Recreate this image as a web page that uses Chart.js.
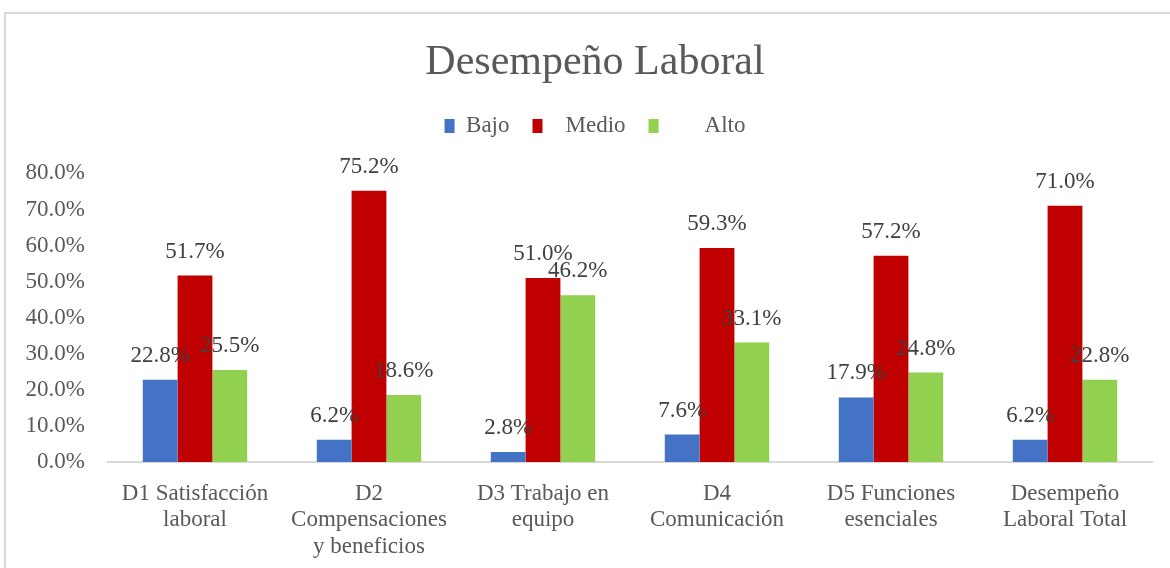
<!DOCTYPE html>
<html>
<head>
<meta charset="utf-8">
<script src="https://cdn.jsdelivr.net/npm/chart.js@4"></script>
<style>
  body { margin: 0; background: #fff; }
  #wrap { position: relative; width: 1170px; height: 568px; overflow: hidden; }
  #frame { position: absolute; left: 4px; top: 12px; width: 1200px; height: 600px;
           border-left: 2px solid #d9d9d9; border-top: 2px solid #d9d9d9; }
  #bpChart { position: absolute; left: 0; top: 0; }
</style>
</head>
<body>
<div id="wrap">
  <div id="frame"></div>
  <canvas id="bpChart" width="1170" height="568"></canvas>
</div>
<script>
function getElement(id) {
  return document.getElementById(id);
}

// Data

const categories = [
  ["D1 Satisfacción", "laboral"],
  ["D2", "Compensaciones", "y beneficios"],
  ["D3 Trabajo en", "equipo"],
  ["D4", "Comunicación"],
  ["D5 Funciones", "esenciales"],
  ["Desempeño", "Laboral Total"],
];
const series_names = ["Bajo", "Medio", "Alto"];
const bajo = [22.8, 6.2, 2.8, 7.6, 17.9, 6.2];
const medio = [51.7, 75.2, 51.0, 59.3, 57.2, 71.0];
const alto = [25.5, 18.6, 46.2, 33.1, 24.8, 22.8];
const y_min = 0;
const y_max = 80;
const y_step = 10;

const font_family = "'Liberation Serif', 'Times New Roman', serif";
const text_color = "#595959";
let ctx = getElement("bpChart");

// legend spacing as in the original (extra spaces before the names)
const legend_text = ["Bajo", "  Medio", "      Alto"];

const legendHeight = {
  id: "legendHeight",
  beforeInit(chart) {
    const fit = chart.legend.fit;
    chart.legend.fit = function () {
      fit.bind(chart.legend)();
      this.height = 82;
    };
  },
};

// the y labels are wider than the axis box, let them spill to the left
const yLabelRoom = {
  id: "yLabelRoom",
  afterLayout(chart) {
    chart.scales.y.left = 0;
  },
};

const valueLabels = {
  id: "valueLabels",
  afterDatasetsDraw(chart) {
    const c = chart.ctx;
    c.save();
    c.font = "23px " + font_family;
    c.fillStyle = "#404040";
    c.textAlign = "center";
    c.textBaseline = "middle";
    chart.data.datasets.forEach((ds, i) => {
      chart.getDatasetMeta(i).data.forEach((bar, j) => {
        c.fillText(ds.data[j].toFixed(1) + "%", bar.x, bar.y - 24);
      });
    });
    c.restore();
  },
};

new Chart(ctx, {
  type: "bar",
  data: {
    labels: categories,
    datasets: [
      { label: series_names[0], data: bajo, backgroundColor: "#4472c4" },
      { label: series_names[1], data: medio, backgroundColor: "#c00000" },
      { label: series_names[2], data: alto, backgroundColor: "#92d050" },
    ],
  },
  options: {
    responsive: false,
    animation: false,
    barPercentage: 1,
    categoryPercentage: 0.6,
    layout: {
      padding: { left: 38, right: 18, top: 0, bottom: 0 },
    },
    scales: {
      x: {
        grid: { display: false },
        border: { display: true, color: "#d9d9d9", width: 2 },
        ticks: {
          color: text_color,
          font: { family: font_family, size: 23, lineHeight: 1.17 },
          padding: 10,
          maxRotation: 0,
          autoSkip: false,
        },
        afterFit(scale) {
          scale.height = 106;
        },
      },
      y: {
        min: y_min,
        max: y_max,
        grid: { display: false, drawTicks: false },
        border: { display: false },
        ticks: {
          stepSize: y_step,
          color: text_color,
          font: { family: font_family, size: 23 },
          padding: 23,
          callback: (v) => Number(v).toFixed(1) + "%",
        },
        afterFit(scale) {
          scale.width = 70;
        },
      },
    },
    plugins: {
      title: {
        display: true,
        text: "Desempeño Laboral",
        color: text_color,
        font: { family: font_family, size: 42, weight: "normal" },
        padding: { top: 38, bottom: 3 },
      },
      legend: {
        display: true,
        labels: {
          color: text_color,
          font: { family: font_family, size: 23 },
          boxWidth: 10,
          boxHeight: 14,
          padding: 23,
          generateLabels(chart) {
            return chart.data.datasets.map((ds, i) => ({
              text: legend_text[i],
              fillStyle: ds.backgroundColor,
              strokeStyle: ds.backgroundColor,
              lineWidth: 0,
              fontColor: text_color,
              datasetIndex: i,
            }));
          },
        },
      },
      tooltip: { enabled: false },
    },
  },
  plugins: [legendHeight, yLabelRoom, valueLabels],
});
</script>
</body>
</html>
